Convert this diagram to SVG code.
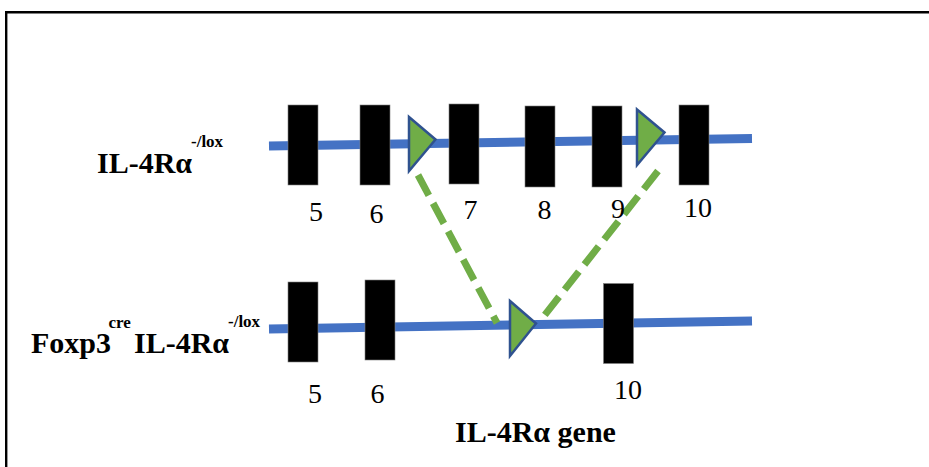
<svg xmlns="http://www.w3.org/2000/svg" width="929" height="467" viewBox="0 0 929 467">
<style>
.exon{fill:#000;stroke:#7f7f7f;stroke-width:0.6}
.dna{stroke:#4472C4;stroke-width:9;fill:none}
.lox{fill:#70AD47;stroke:#2F528F;stroke-width:2.5;stroke-linejoin:miter}
.cut{stroke:#70AD47;stroke-width:7;fill:none;stroke-dasharray:23 9}
.num{font-family:"Liberation Serif",serif;font-size:28px;fill:#000;text-anchor:middle}
.lbl{font-family:"Liberation Serif",serif;font-size:30px;font-weight:bold;fill:#000}
.sup{font-family:"Liberation Serif",serif;font-size:17px;font-weight:bold;fill:#000}
</style>
<rect width="929" height="467" fill="#fff"/>
<path d="M6.2 480 V12.2 H940" fill="none" stroke="#000" stroke-width="2.4"/>
<g id="connectors">
<line class="dna" x1="269" y1="146" x2="752" y2="138.5"/>
<line class="dna" x1="269" y1="329" x2="752" y2="321"/>
<line class="cut" x1="418" y1="175" x2="497" y2="323"/>
<line class="cut" x1="658" y1="171" x2="540" y2="321"/>
</g>
<g id="row1">
<g id="e5a"><rect class="exon" x="288" y="105" width="30" height="80"/></g>
<g id="e6a"><rect class="exon" x="360" y="105" width="30" height="80"/></g>
<g id="lox1"><polygon class="lox" points="409,117 435.5,139.5 409,171"/></g>
<g id="e7a"><rect class="exon" x="449" y="104" width="30" height="80"/></g>
<g id="e8a"><rect class="exon" x="525" y="106" width="30" height="81"/></g>
<g id="e9a"><rect class="exon" x="592" y="106" width="30" height="81"/></g>
<g id="lox2"><polygon class="lox" points="637,109.5 664.5,132.5 637,165"/></g>
<g id="e10a"><rect class="exon" x="679" y="105" width="30" height="80"/></g>
</g>
<g id="row2">
<g id="e5b"><rect class="exon" x="288" y="282" width="30" height="80"/></g>
<g id="e6b"><rect class="exon" x="365" y="280" width="30" height="80"/></g>
<g id="lox3"><polygon class="lox" points="510,301 536,323.5 510,356"/></g>
<g id="e10b"><rect class="exon" x="603.5" y="283.5" width="30" height="80"/></g>
</g>
<g id="labels">
<text class="num" x="316" y="221">5</text>
<text class="num" x="376.5" y="222.5">6</text>
<text class="num" x="470.5" y="219">7</text>
<text class="num" x="544.5" y="219">8</text>
<text class="num" x="618" y="218">9</text>
<text class="num" x="698" y="217">10</text>
<text class="num" x="315" y="403">5</text>
<text class="num" x="377.5" y="403">6</text>
<text class="num" x="628" y="399">10</text>
<text class="lbl" x="97" y="173">IL-4Rα</text>
<text class="sup" x="191" y="147">-/lox</text>
<text class="lbl" x="31" y="353">Foxp3</text>
<text class="sup" x="108.5" y="328">cre</text>
<text class="lbl" x="134" y="353">IL-4Rα</text>
<text class="sup" x="228" y="327">-/lox</text>
<text class="lbl" x="455" y="441.5">IL-4Rα gene</text>
</g>
</svg>
